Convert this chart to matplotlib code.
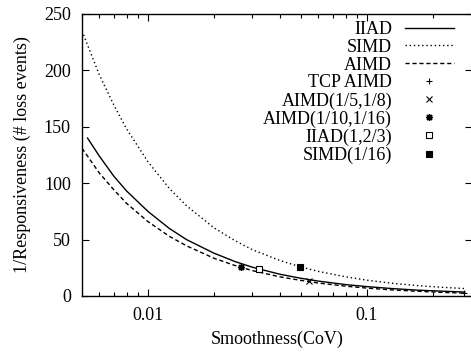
import matplotlib
matplotlib.use("Agg")
import matplotlib.pyplot as plt
from matplotlib.ticker import LogLocator, FixedLocator, NullFormatter, FixedFormatter

plt.rcParams['font.family'] = ['Liberation Serif', 'DejaVu Serif']

# Curves
iiad_x = [0.0053, 0.006, 0.007, 0.008, 0.01, 0.0125, 0.015, 0.02, 0.025, 0.03,
          0.04, 0.05, 0.06, 0.08, 0.1, 0.13, 0.17, 0.22, 0.28]
iiad_y = [140, 124, 106, 93, 75, 60, 50, 38, 30.5, 25.5,
          19.3, 15.7, 13.2, 10.1, 8.3, 6.6, 5.2, 4.3, 3.5]

simd_x = [0.005, 0.006, 0.007, 0.008, 0.01, 0.0125, 0.015, 0.02, 0.025, 0.03,
          0.04, 0.05, 0.06, 0.08, 0.1, 0.13, 0.17, 0.22, 0.28]
simd_y = [235, 196, 169, 148, 119, 95.5, 80, 60.5, 49, 41,
          31.5, 25.7, 21.8, 17, 14, 11.3, 9.2, 7.7, 6.6]

aimd_x = [0.005, 0.006, 0.007, 0.008, 0.01, 0.0125, 0.015, 0.02, 0.025, 0.03,
          0.04, 0.05, 0.06, 0.08, 0.1, 0.13, 0.17, 0.22, 0.28]
aimd_y = [131, 109, 94, 82, 66, 53, 44.5, 33.5, 27, 22.5,
          17, 13.8, 11.5, 8.7, 7, 5.4, 4.2, 3.2, 2.5]

# Points
tcp_x, tcp_y = [0.276], [2.4]
aimd58_x, aimd58_y = [0.0545], [13.3]
aimd1016_x, aimd1016_y = [0.0265], [25.5]
iiad123_x, iiad123_y = [0.032], [24]
simd16_x, simd16_y = [0.0496], [25.8]

x_ticks = [0.01, 0.1]
x_ticklabels = ['0.01', '0.1']
y_ticks = [0, 50, 100, 150, 200, 250]

fig = plt.figure(figsize=(4.71, 3.54), dpi=100)
ax = fig.add_axes([82/471, 58/354, 389.5/471, 282/354])

ax.plot(iiad_x, iiad_y, color='black', lw=1.0, ls='-', label='IIAD')
ax.plot(simd_x, simd_y, color='black', lw=1.0, ls=(0, (1, 2)), label='SIMD')
ax.plot(aimd_x, aimd_y, color='black', lw=1.0, ls=(0, (3, 2)), label='AIMD')
ax.plot(tcp_x, tcp_y, ls='none', marker='+', ms=5, mew=0.8, color='black', label='TCP AIMD')
ax.plot(aimd58_x, aimd58_y, ls='none', marker='x', ms=4.5, mew=0.8, color='black', label='AIMD(1/5,1/8)')
ax.plot(aimd1016_x, aimd1016_y, ls='none', marker=(8, 2, 0), ms=5, mew=1.0, color='black', label='AIMD(1/10,1/16)')
ax.plot(iiad123_x, iiad123_y, ls='none', marker='s', ms=4.5, mew=0.8, color='black', mfc='white', label='IIAD(1,2/3)')
ax.plot(simd16_x, simd16_y, ls='none', marker='s', ms=4.5, mew=0.8, color='black', label='SIMD(1/16)')

ax.set_xscale('log')
ax.set_xlim(0.005, 0.3)
ax.set_ylim(0, 250)

ax.xaxis.set_major_locator(FixedLocator(x_ticks))
ax.xaxis.set_major_formatter(FixedFormatter(x_ticklabels))
ax.xaxis.set_minor_locator(LogLocator(base=10, subs=[2, 3, 4, 5, 6, 7, 8, 9]))
ax.xaxis.set_minor_formatter(NullFormatter())
ax.set_yticks(y_ticks)

ax.tick_params(which='both', direction='in', top=True, right=True, labelsize=13, color='black')
ax.tick_params(which='major', length=5, width=0.8, pad=8)
ax.tick_params(which='minor', length=3, width=0.8)
for s in ax.spines.values():
    s.set_linewidth(1.0)

ax.set_xlabel('Smoothness(CoV)', fontsize=13, labelpad=5)
ax.set_ylabel('1/Responsiveness (# loss events)', fontsize=13, labelpad=9)

leg = ax.legend(loc='upper right', bbox_to_anchor=(1 - 18/389.5, 1 - 7/282), frameon=False,
                markerfirst=False, fontsize=13, handlelength=2.7, handletextpad=0.7,
                labelspacing=0.045, borderaxespad=0, borderpad=0)

fig.savefig('out.png', dpi=100)
